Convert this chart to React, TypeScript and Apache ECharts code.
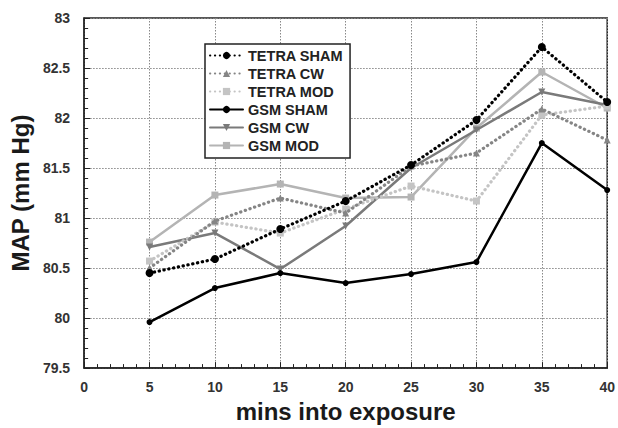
import React, { useEffect, useRef } from "react";
import * as echarts from "echarts";

// Minutes into exposure at which MAP was sampled
const minutes = [5, 10, 15, 20, 25, 30, 35, 40];

// Mean arterial pressure (mm Hg) per group
const tetraSham = [80.45, 80.59, 80.89, 81.17, 81.53, 81.98, 82.71, 82.16];
const tetraCw = [80.5, 80.97, 81.2, 81.05, 81.52, 81.65, 82.09, 81.78];
const tetraMod = [80.57, 80.96, 80.85, 81.09, 81.32, 81.17, 82.03, 82.12];
const gsmSham = [79.96, 80.3, 80.45, 80.35, 80.44, 80.56, 81.75, 81.28];
const gsmCw = [80.71, 80.85, 80.49, 80.92, 81.5, 81.88, 82.26, 82.13];
const gsmMod = [80.76, 81.23, 81.34, 81.2, 81.21, 81.9, 82.46, 82.1];

const legendOrder = [
  "TETRA SHAM",
  "TETRA CW",
  "TETRA MOD",
  "GSM SHAM",
  "GSM CW",
  "GSM MOD",
];

const FONT = "'Liberation Sans', Arial, Helvetica, sans-serif";
// round dots: near-zero dash with round caps
const DOTS = [0.3, 4.6];

const pairs = (vals: number[]) => minutes.map((m, i) => [m, vals[i]]);

export default function App() {
  const ref = useRef<HTMLDivElement>(null);

  useEffect(() => {
    if (!ref.current) return;
    const chart = echarts.init(ref.current, null, { renderer: "svg" });

    const mk = (
      name: string,
      vals: number[],
      color: string,
      dotted: boolean,
      symbol: string,
      symbolSize: number,
      z: number
    ) => ({
      name,
      type: "line",
      data: pairs(vals),
      symbol,
      symbolSize,
      showSymbol: true,
      z,
      lineStyle: {
        color,
        width: dotted ? 3.2 : 2.5,
        type: dotted ? DOTS : "solid",
        cap: "round",
      },
      itemStyle: { color, borderWidth: 0 },
    });

    const tickLabel = {
      fontFamily: FONT,
      fontWeight: "bold",
      fontSize: 14,
      color: "#333",
    };
    const axisName = {
      fontFamily: FONT,
      fontWeight: "bold",
      fontSize: 24,
      color: "#1a1a1a",
    };
    const gridLine = { show: true, lineStyle: { color: "#888", type: [1.5, 1.5], width: 1 } };

    chart.setOption({
      animation: false,
      backgroundColor: "#ffffff",
      grid: {
        left: 78,
        right: 8,
        top: 18,
        bottom: 55,
        show: true,
        borderColor: "#222",
        borderWidth: 1.5,
        backgroundColor: "transparent",
      },
      legend: {
        orient: "vertical",
        left: 205,
        top: 44,
        itemWidth: 33,
        itemHeight: 9,
        itemGap: 3,
        padding: [4, 7, 5, 4],
        backgroundColor: "#ffffff",
        borderColor: "#222",
        borderWidth: 1.5,
        textStyle: {
          fontFamily: FONT,
          fontWeight: "bold",
          fontSize: 14.5,
          color: "#222",
        },
        data: legendOrder,
      },
      xAxis: {
        type: "value",
        min: 0,
        max: 40,
        interval: 5,
        name: "mins into exposure",
        nameLocation: "middle",
        nameGap: 25,
        nameTextStyle: axisName,
        axisLine: { show: true, lineStyle: { color: "#222", width: 1.5 } },
        axisTick: { show: true, inside: true, length: 6, lineStyle: { color: "#222" } },
        minorTick: { show: true, splitNumber: 5, length: 4, lineStyle: { color: "#222" } },
        axisLabel: { margin: 12, ...tickLabel },
        splitLine: gridLine,
      },
      yAxis: {
        type: "value",
        min: 79.5,
        max: 83,
        interval: 0.5,
        name: "MAP (mm Hg)",
        nameLocation: "middle",
        nameGap: 45,
        nameTextStyle: axisName,
        axisLine: { show: true, lineStyle: { color: "#222", width: 1.5 } },
        axisTick: { show: true, inside: true, length: 6, lineStyle: { color: "#222" } },
        minorTick: { show: true, splitNumber: 5, length: 4, lineStyle: { color: "#222" } },
        axisLabel: { margin: 14, ...tickLabel },
        splitLine: gridLine,
      },
      series: [
        mk("GSM MOD", gsmMod, "#b4b4b4", false, "rect", 7, 2),
        mk("GSM CW", gsmCw, "#7a7a7a", false, "path://M0,0L10,0L5,9Z", 7, 3),
        mk("TETRA MOD", tetraMod, "#c4c4c4", true, "rect", 7, 4),
        mk("TETRA CW", tetraCw, "#858585", true, "triangle", 7, 5),
        mk("GSM SHAM", gsmSham, "#000000", false, "circle", 6, 6),
        mk("TETRA SHAM", tetraSham, "#000000", true, "circle", 8, 7),
      ],
    });

    return () => chart.dispose();
  }, []);

  return (
    <div
      ref={ref}
      style={{ position: "fixed", left: 0, top: 0, width: 618, height: 428 }}
    />
  );
}
